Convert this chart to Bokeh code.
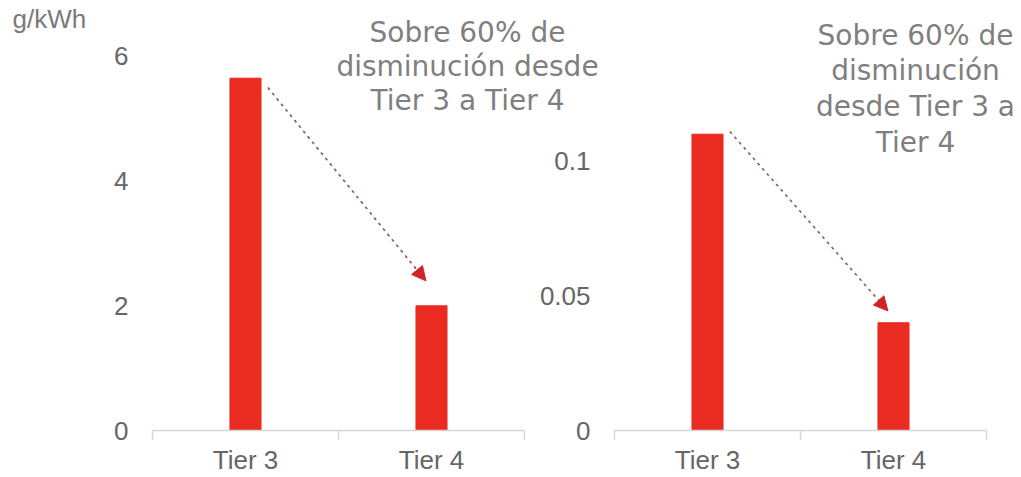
from bokeh.plotting import figure
from bokeh.layouts import row
from bokeh.models import (Range1d, FixedTicker, Label, Arrow, NormalHead,
                          NumeralTickFormatter)
from bokeh.embed import file_html
from bokeh.resources import INLINE

# ---------------- data ----------------
categories = ["Tier 3", "Tier 4"]
left_values = [5.65, 2.0]          # g/kWh
right_values = [0.11, 0.04]        # g/kWh
left_ticks = [0, 2, 4, 6]
right_ticks = [0, 0.05, 0.1]
unit_label = "g/kWh"
left_note = "Sobre 60% de\ndisminución desde\nTier 3 a Tier 4"
right_note = "Sobre 60% de\ndisminución\ndesde Tier 3 a\nTier 4"

BAR = "#e92b22"
TICK_TXT = "#666666"
NOTE_TXT = "#7f7f7f"
AXIS = "#d6d6d6"

W, H = 1021, 477
FRAME_H = 431

xs = [i + 0.5 for i in range(len(categories))]
bounds = [float(i) for i in range(len(categories) + 1)]


def make_fig(values, ticks, y_end, width, border_left, border_right, transparent=False):
    p = figure(width=width, height=H, output_backend="svg", toolbar_location=None,
               x_range=Range1d(0, len(categories)), y_range=Range1d(0, y_end),
               min_border_left=border_left, min_border_right=border_right,
               min_border_top=0, min_border_bottom=H - FRAME_H)
    p.outline_line_color = None
    p.xgrid.visible = False
    p.ygrid.visible = False
    if transparent:
        p.background_fill_alpha = 0
        p.border_fill_alpha = 0
    p.vbar(x=xs, top=values, width=0.167, bottom=0, fill_color=BAR, line_color=BAR)

    xa = p.xaxis[0]
    xa.ticker = FixedTicker(ticks=xs, minor_ticks=bounds)
    xa.major_label_overrides = {x: c for x, c in zip(xs, categories)}
    xa.major_tick_line_color = None
    xa.major_tick_out = 0
    xa.major_tick_in = 0
    xa.minor_tick_line_color = AXIS
    xa.minor_tick_out = 9
    xa.minor_tick_in = 0
    xa.axis_line_color = AXIS
    xa.axis_line_width = 1.5
    xa.minor_tick_line_width = 1.5
    xa.major_label_standoff = 5
    xa.major_label_text_font = "Liberation Sans"
    xa.major_label_text_font_size = "26px"
    xa.major_label_text_color = TICK_TXT

    ya = p.yaxis[0]
    ya.ticker = FixedTicker(ticks=ticks)
    ya.axis_line_color = None
    ya.major_tick_line_color = None
    ya.minor_tick_line_color = None
    ya.major_tick_out = 0
    ya.major_tick_in = 0
    ya.major_label_standoff = 24
    ya.major_label_text_font = "Liberation Sans"
    ya.major_label_text_font_size = "26px"
    ya.major_label_text_color = TICK_TXT
    return p


# left chart: frame 152..524 px, 62.5 px per g/kWh
left = make_fig(left_values, left_ticks, FRAME_H / 62.5, 610, 152, 86)
# right chart: frame 614..986 px, 2700 px per g/kWh
right = make_fig(right_values, right_ticks, FRAME_H / 2700, 491, 84, 35, transparent=True)
right.yaxis[0].formatter = NumeralTickFormatter(format="0.[00]")
right.margin = (0, 0, 0, -80)

# arrows from Tier 3 top toward Tier 4 top
for p, vals, dy0, dy1 in [(left, left_values, -0.15, 0.4), (right, right_values, 0.001, 0.0044)]:
    p.add_layout(Arrow(x_start=xs[0] + 0.12, y_start=vals[0] + dy0,
                       x_end=xs[1] - 0.03, y_end=vals[1] + dy1,
                       line_color="#8c5e60", line_width=1.7, line_dash="3 4",
                       end=NormalHead(size=14, fill_color="#d0222a", line_color="#d0222a")))

# transparent overlay (pixel coordinates) for texts that cross the plot frames
ov = figure(width=W, height=H, output_backend="svg", toolbar_location=None,
            x_range=Range1d(0, W), y_range=Range1d(H, 0),
            x_axis_type=None, y_axis_type=None,
            min_border_left=0, min_border_right=0, min_border_top=0, min_border_bottom=0)
ov.outline_line_color = None
ov.xgrid.visible = False
ov.ygrid.visible = False
ov.background_fill_alpha = 0
ov.border_fill_alpha = 0
ov.margin = (0, 0, 0, -W)

ov.add_layout(Label(x=12, y=21, text=unit_label, text_font="Liberation Sans",
                    text_font_size="26px", text_color="#7a7a7a", text_baseline="middle"))
ov.add_layout(Label(x=467, y=17, text=left_note, text_align="center", text_baseline="top",
                    text_font="DejaVu Sans", text_font_size="28px",
                    text_color=NOTE_TXT, text_line_height=1.04))
ov.add_layout(Label(x=915, y=20, text=right_note, text_align="center", text_baseline="top",
                    text_font="DejaVu Sans", text_font_size="28px",
                    text_color=NOTE_TXT, text_line_height=1.09))

layout = row(left, right, ov)
open("out.html", "w").write(file_html(layout, INLINE))
